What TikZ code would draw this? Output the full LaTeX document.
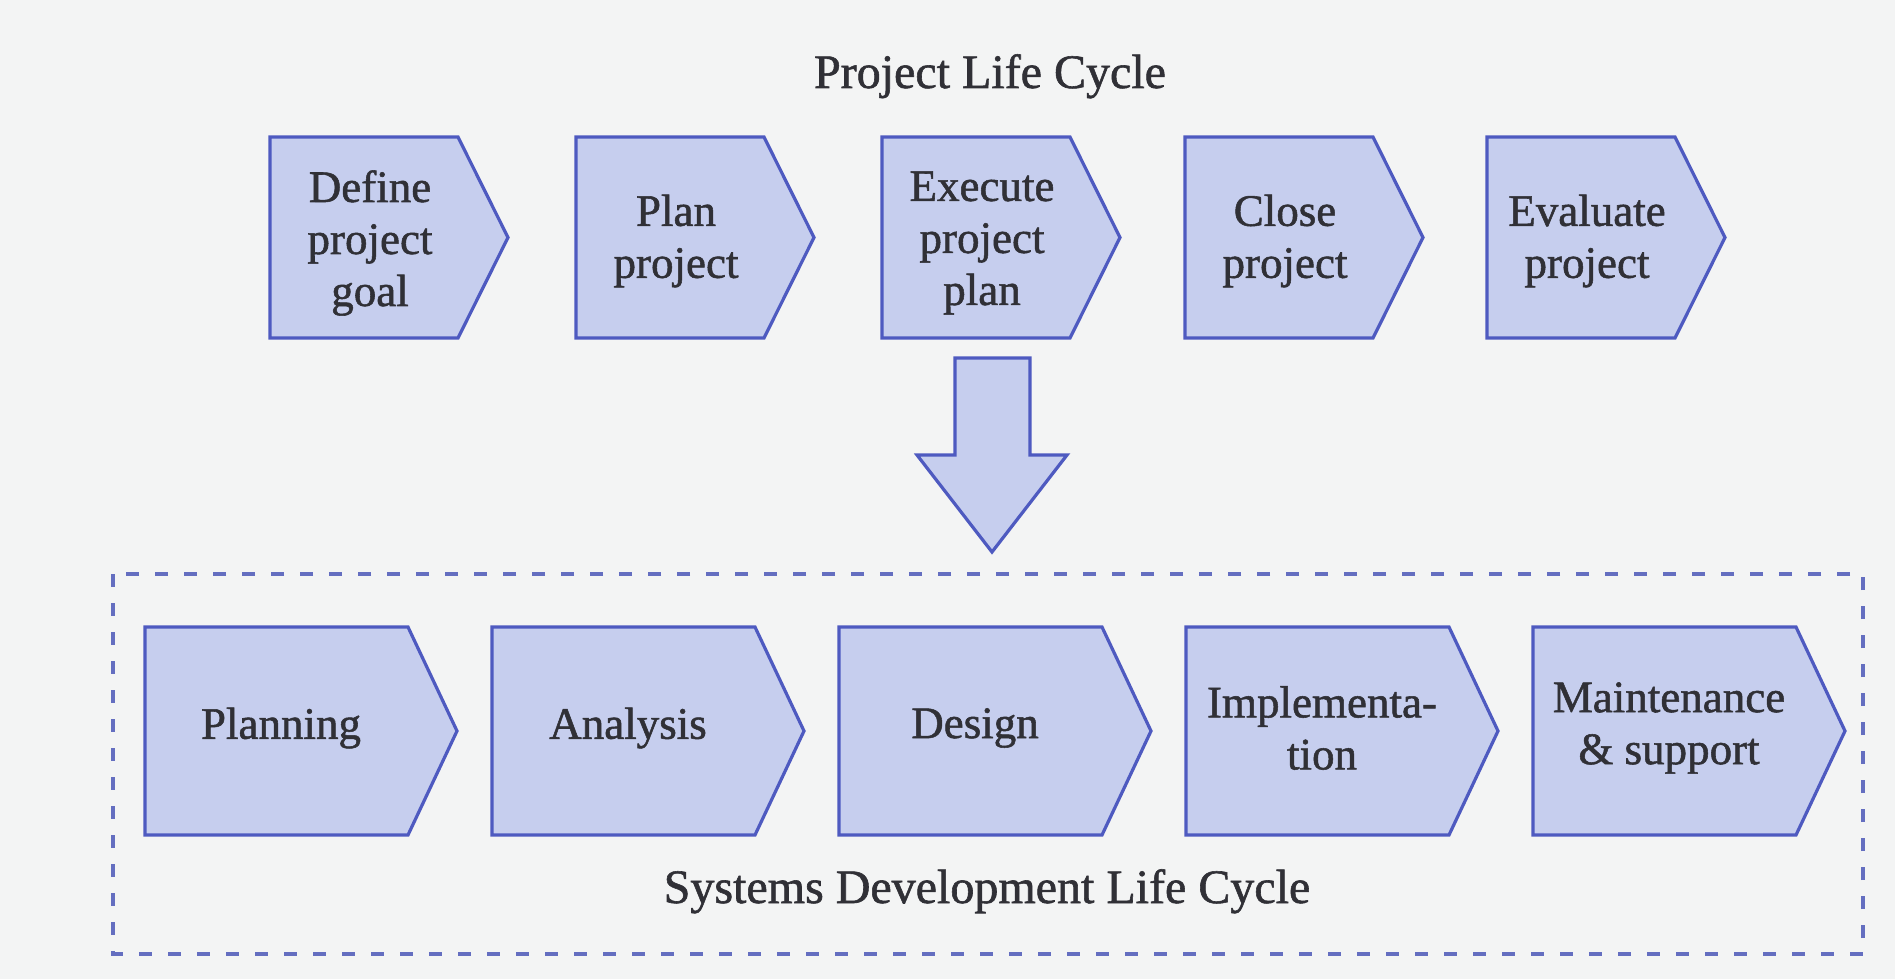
\documentclass[tikz,border=0pt]{standalone}
\usepackage{fontspec}
\setmainfont{Liberation Serif}
\newfontfamily\figfont{Liberation Serif}[FakeBold=1.2]
\definecolor{bgc}{RGB}{243,244,244}
\definecolor{chevfill}{RGB}{198,206,238}
\definecolor{chevline}{RGB}{78,90,192}
\definecolor{dashc}{RGB}{100,110,192}
\definecolor{txt}{RGB}{48,48,54}
\newcommand\chevshape[5]{%
  \filldraw[chevstyle] (#1,#2) -- ++(#3,0) -- ++(#5,#4/2) -- ++(-#5,#4/2) -- ++(-#3,0) -- cycle;}
\begin{document}
\begin{tikzpicture}[x=0.5pt,y=-0.5pt,
  chevstyle/.style={fill=chevfill,draw=chevline,line width=1.6pt,line join=miter},
  lbl/.style={text=txt,align=center,font=\figfont\fontsize{22.5}{26}\selectfont,inner sep=0pt},
  ttl/.style={text=txt,font=\figfont\fontsize{24}{28}\selectfont,inner sep=0pt,anchor=base},
  bigarrow/.style={fill=chevfill,draw=chevline,line width=1.6pt,line join=miter},
  dashbox/.style={draw=dashc,line width=2pt,dash pattern=on 6.5pt off 8pt}]
\fill[bgc] (0,0) rectangle (1895,979);
\useasboundingbox (0,0) rectangle (1895,979);
% title
\node[ttl] (plc) at (990,88) {Project Life Cycle};
% top row
\chevshape{270}{137}{188}{201}{50}
\chevshape{576}{137}{188}{201}{50}
\chevshape{882}{137}{188}{201}{50}
\chevshape{1185}{137}{188}{201}{50}
\chevshape{1487}{137}{188}{201}{50}
\node[lbl] (t1) at (370,243) {Define\\project\\goal};
\node[lbl] (t2) at (676,241) {Plan\\project};
\node[lbl] (t3) at (982,243) {Execute\\project\\plan};
\node[lbl] (t4) at (1285,241) {Close\\project};
\node[lbl] (t5) at (1587,241) {Evaluate\\project};
% down arrow
\filldraw[bigarrow] (955,358) -- (1030,358) -- (1030,455) -- (1067,455) -- (992,552) -- (917,455) -- (955,455) -- cycle;
% dashed box
\draw[dashbox] (113,574) rectangle (1863,954);
% bottom row
\chevshape{145}{627}{263}{208}{49}
\chevshape{492}{627}{263}{208}{49}
\chevshape{839}{627}{263}{208}{49}
\chevshape{1186}{627}{263}{208}{49}
\chevshape{1533}{627}{263}{208}{49}
\node[lbl] (b1) at (281,728) {Planning};
\node[lbl] (b2) at (628,728) {Analysis};
\node[lbl] (b3) at (975,728) {Design};
\node[lbl] (b4) at (1322,728) {Implementa-\\tion};
\node[lbl] (b5) at (1669,728) {Maintenance\\\& support};
\node[ttl] (sdlc) at (987,903) {Systems Development Life Cycle};
\end{tikzpicture}
\end{document}
